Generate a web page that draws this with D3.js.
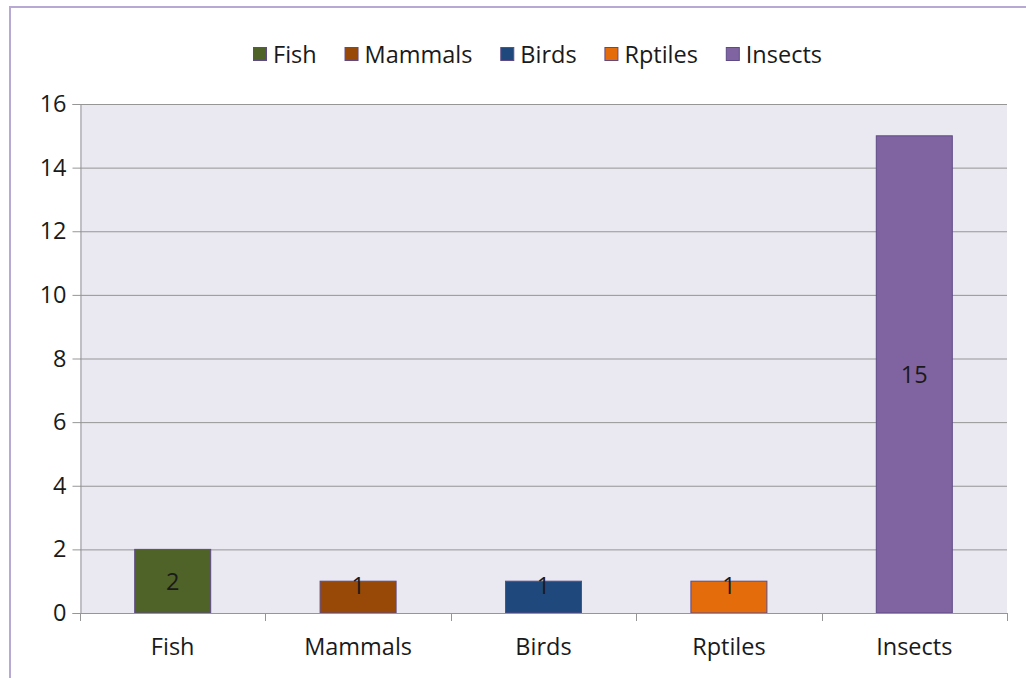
<!DOCTYPE html>
<html>
<head>
<meta charset="utf-8">
<script src="https://cdn.jsdelivr.net/npm/d3@7"></script>
<style>
  html, body { margin: 0; padding: 0; background: #fff; }
  svg { display: block; }
  text { font-family: "Open Sans", sans-serif; fill: #1a1a1a; }
</style>
</head>
<body>
<svg id="chart" width="1026" height="678"></svg>
<script>
const categories = ["Fish", "Mammals", "Birds", "Rptiles", "Insects"];
const values = [2, 1, 1, 1, 15];
const colors = ["#4f6228", "#984807", "#1f497d", "#e46c0a", "#8064a2"];
const yTicks = [0, 2, 4, 6, 8, 10, 12, 14, 16];

const svg = d3.select("#chart");
const plot = { left: 80, top: 104, right: 1007, bottom: 613 };
const FS = 23.5;

// outer border
svg.append("rect").attr("x", 10).attr("y", 7).attr("width", 1040).attr("height", 700)
  .attr("fill", "#fff").attr("stroke", "#b8a8d4").attr("stroke-width", 2);

// plot background
svg.append("rect").attr("x", plot.left).attr("y", plot.top)
  .attr("width", plot.right - plot.left).attr("height", plot.bottom - plot.top)
  .attr("fill", "#eae8f0");

const x = d3.scaleBand().domain(categories).range([plot.left, plot.right]).paddingInner(0).paddingOuter(0);
const y = d3.scaleLinear().domain([0, 16]).range([plot.bottom, plot.top]);

// gridlines
svg.append("g").selectAll("line").data(yTicks.filter(d => d > 0)).join("line")
  .attr("x1", plot.left).attr("x2", plot.right)
  .attr("y1", d => y(d) + 0.5).attr("y2", d => y(d) + 0.5)
  .attr("stroke", "#969696").attr("stroke-width", 1);

// y axis
const yAxis = d3.axisLeft(y).tickValues(yTicks).tickSize(8).tickPadding(6);
const gy = svg.append("g").attr("transform", `translate(${plot.left + 0.5},0)`).call(yAxis);
gy.select(".domain").attr("stroke", "#969696");
gy.selectAll(".tick line").attr("stroke", "#969696");
gy.selectAll(".tick").attr("transform", d => `translate(0,${y(d) + 0.5})`);
gy.selectAll(".tick text").attr("font-size", FS).attr("font-family", "'Open Sans', sans-serif").attr("fill", "#1a1a1a");

// bars
const barW = 76;
svg.append("g").selectAll("rect").data(values).join("rect")
  .attr("x", (d, i) => x(categories[i]) + x.bandwidth() / 2 - barW / 2)
  .attr("y", d => y(d))
  .attr("width", barW)
  .attr("height", d => y(0) - y(d))
  .attr("fill", (d, i) => colors[i])
  .attr("stroke", "#5e4a86").attr("stroke-width", 1);

// x axis
svg.append("line").attr("x1", plot.left).attr("x2", plot.right)
  .attr("y1", plot.bottom + 0.5).attr("y2", plot.bottom + 0.5).attr("stroke", "#969696");
const boundaries = categories.map(c => x(c)).concat([plot.right]);
svg.append("g").selectAll("line").data(boundaries).join("line")
  .attr("x1", d => Math.round(d) + 0.5).attr("x2", d => Math.round(d) + 0.5)
  .attr("y1", plot.bottom).attr("y2", plot.bottom + 8).attr("stroke", "#969696");
svg.append("g").selectAll("text").data(categories).join("text")
  .attr("x", d => x(d) + x.bandwidth() / 2)
  .attr("y", 655)
  .attr("text-anchor", "middle").attr("font-size", FS).text(d => d);

// data labels
svg.append("g").selectAll("text").data(values).join("text")
  .attr("x", (d, i) => x(categories[i]) + x.bandwidth() / 2)
  .attr("y", d => {
    const top = y(d), bot = y(0);
    return (bot - top) < 40 ? top + 13 : (top + bot) / 2 + 9;
  })
  .attr("text-anchor", "middle").attr("font-size", FS).text(d => d);

// legend
const lg = svg.append("g");
const swatch = 14, gapSw = 6;
const legendStart = 253, legendEnd = 822;
const items = [];
categories.forEach((c, i) => {
  const t = lg.append("text").attr("font-size", FS).attr("y", 63).text(c);
  items.push({ i, t, w: t.node().getComputedTextLength() });
});
const contentW = d3.sum(items, d => swatch + gapSw + d.w);
const gapItem = (legendEnd - legendStart - contentW) / (items.length - 1);
let cx = legendStart;
items.forEach(it => {
  lg.append("rect").attr("x", cx + 0.5).attr("y", 47.5).attr("width", swatch - 1).attr("height", swatch - 1)
    .attr("fill", colors[it.i]).attr("stroke", "#5e4a86").attr("stroke-width", 1);
  it.t.attr("x", cx + swatch + gapSw);
  cx += swatch + gapSw + it.w + gapItem;
});
</script>
</body>
</html>
